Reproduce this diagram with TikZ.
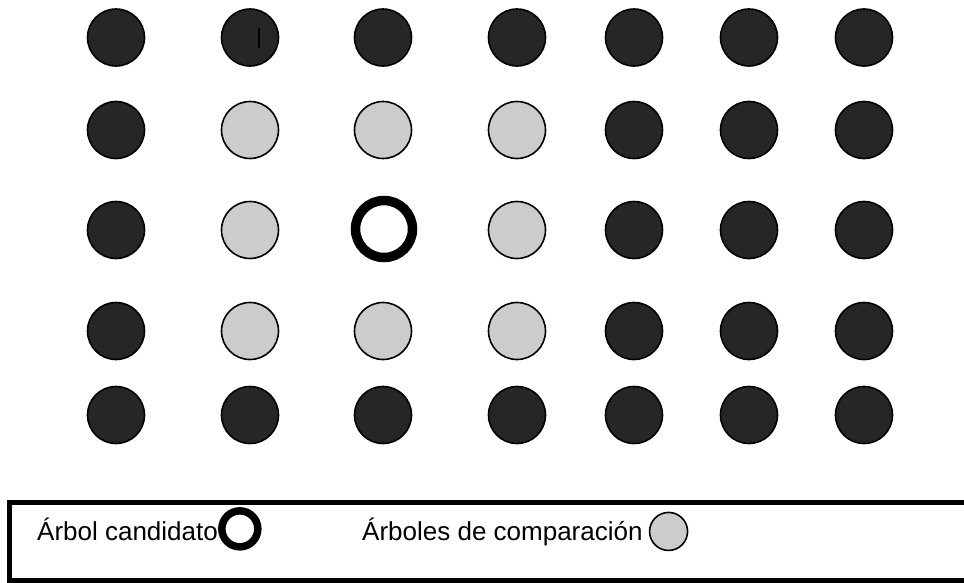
\documentclass[tikz,border=0pt]{standalone}
\usepackage{fontspec}
\setmainfont{Liberation Sans}
\usetikzlibrary{positioning}

\definecolor{oscuro}{HTML}{262626}
\definecolor{claro}{HTML}{CCCCCC}

\tikzset{
  arbol/.style={circle, draw=black, line width=1.6pt, minimum size=57pt, inner sep=0pt},
  oscuro/.style={arbol, fill=oscuro},
  comparacion/.style={arbol, fill=claro},
  candidato/.style={arbol, fill=white, line width=9.5pt}
}

\begin{document}
\begin{tikzpicture}[x=1pt, y=-1pt, font=\fontsize{26}{31}\selectfont]
  \useasboundingbox (0, 0) rectangle (964, 582);
  \clip (0, 0) rectangle (964, 582);

  % fila 1
  \node (a1) at (116, 37.5) [oscuro] {};
  \node (a2) at (250, 37.5) [oscuro] {};
  \node (a3) at (383, 37.5) [oscuro] {};
  \node (a4) at (517, 37.5) [oscuro] {};
  \node (a5) at (634, 37.5) [oscuro] {};
  \node (a6) at (749, 37.5) [oscuro] {};
  \node (a7) at (864, 37.5) [oscuro] {};
  \draw[line width=1.2pt] (259, 28) -- (259, 48);

  % fila 2
  \node (b1) at (116, 130) [oscuro] {};
  \node (b2) at (250, 130) [comparacion] {};
  \node (b3) at (383, 130) [comparacion] {};
  \node (b4) at (517, 130) [comparacion] {};
  \node (b5) at (634, 130) [oscuro] {};
  \node (b6) at (749, 130) [oscuro] {};
  \node (b7) at (864, 130) [oscuro] {};

  % fila 3
  \node (c1) at (116, 230) [oscuro] {};
  \node (c2) at (250, 230) [comparacion] {};
  \node (c3) at (384, 229) [candidato] {};
  \node (c4) at (517, 230) [comparacion] {};
  \node (c5) at (634, 230) [oscuro] {};
  \node (c6) at (749, 230) [oscuro] {};
  \node (c7) at (864, 230) [oscuro] {};

  % fila 4
  \node (d1) at (116, 331) [oscuro] {};
  \node (d2) at (250, 331) [comparacion] {};
  \node (d3) at (383, 331) [comparacion] {};
  \node (d4) at (517, 331) [comparacion] {};
  \node (d5) at (634, 331) [oscuro] {};
  \node (d6) at (749, 331) [oscuro] {};
  \node (d7) at (864, 331) [oscuro] {};

  % fila 5
  \node (e1) at (116, 415) [oscuro] {};
  \node (e2) at (250, 415) [oscuro] {};
  \node (e3) at (383, 415) [oscuro] {};
  \node (e4) at (517, 415) [oscuro] {};
  \node (e5) at (634, 415) [oscuro] {};
  \node (e6) at (749, 415) [oscuro] {};
  \node (e7) at (864, 415) [oscuro] {};

  % leyenda
  \draw[line width=5pt] (9, 502) rectangle (990, 580);
  \node (txtCand) at (37, 540) [anchor=base west, inner sep=0pt] {Árbol candidato};
  \node (leyCand) [candidato, minimum size=36pt, line width=7.5pt, right=0pt of txtCand] {};
  \node (txtComp) at (362, 540) [anchor=base west, inner sep=0pt] {Árboles de comparación};
  \node (leyComp) [comparacion, minimum size=38pt, right=6pt of txtComp] {};
 \end{tikzpicture}
\end{document}
